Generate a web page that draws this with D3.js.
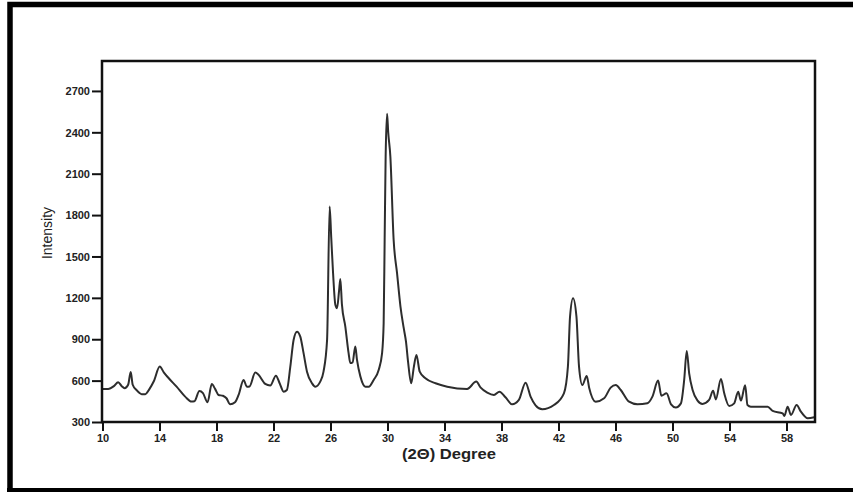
<!DOCTYPE html>
<html>
<head>
<meta charset="utf-8">
<script src="https://cdn.jsdelivr.net/npm/d3@7"></script>
<style>
  body { margin: 0; background: #fff; }
  svg { display: block; font-family: "Liberation Sans", Arial, sans-serif; }
</style>
</head>
<body>
<svg id="chart" width="853" height="492"></svg>
<script>
// 2-theta positions (degrees) and the intensity
const twoTheta = [
  10.0, 10.4, 10.8, 11.1, 11.35, 11.55, 11.8, 11.98, 12.12, 12.4, 12.75, 13.0, 13.3, 13.6,
  14.02, 14.3, 14.65, 15.2, 15.8, 16.25, 16.45, 16.8, 17.05, 17.37, 17.67, 17.9, 18.14,
  18.45, 18.7, 18.96, 19.3, 19.55, 19.9, 20.13, 20.32, 20.72, 20.95, 21.42, 21.77, 22.17,
  22.43, 22.71, 22.94, 23.18, 23.41, 23.65, 23.88, 24.11, 24.35, 24.7, 24.93, 25.28, 25.51,
  25.76, 25.94, 26.05, 26.18, 26.34, 26.46, 26.6, 26.69, 26.8, 27.04, 27.27, 27.39, 27.55,
  27.74, 27.86, 28.1, 28.45, 28.68, 29.03, 29.38, 29.62, 29.73, 29.8, 29.87, 29.97, 30.05,
  30.2, 30.43, 30.67, 30.91, 31.14, 31.3, 31.44, 31.66, 31.85, 32.03, 32.26, 32.66, 33.37,
  34.19, 35.59, 36.23, 36.54, 37.0, 37.47, 37.86, 38.28, 38.75, 39.22, 39.69, 40.04, 40.39,
  40.86, 41.68, 42.38, 42.66, 42.81, 43.02, 43.26, 43.44, 43.67, 43.98, 44.15, 44.61, 45.2,
  45.66, 46.02, 46.37, 46.95, 47.54, 48.24, 48.59, 48.99, 49.22, 49.58, 49.9, 50.23, 50.59,
  50.82, 51.0, 51.17, 51.41, 51.76, 52.1, 52.57, 52.85, 53.04, 53.4, 53.63, 53.98, 54.33,
  54.61, 54.8, 55.1, 55.26, 55.5, 56.68, 57.03, 57.73, 57.85, 58.08, 58.31, 58.71, 59.01,
  59.49, 59.95
];
const intensity = [
  540, 540, 560, 588, 560, 545, 570, 662, 570, 530, 502, 502, 540, 595,
  702, 660, 617, 556, 484, 448, 450, 525, 510, 443, 575, 540, 496,
  490, 472, 428, 443, 496, 605, 556, 558, 658, 642, 576, 564, 636,
  581, 520, 532, 701, 895, 955, 919, 799, 665, 581, 556, 593, 665,
  895, 1863, 1640, 1380, 1150, 1125, 1250, 1336, 1155, 992, 799, 727, 732,
  847, 750, 629, 556, 556, 605, 677, 799, 1016, 1621, 2226, 2535, 2400,
  2226, 1621, 1379, 1137, 980, 880, 740, 581, 700, 786, 665, 617, 581,
  556, 540, 593, 549, 513, 496, 520, 479, 428, 460, 585, 484, 421,
  392, 423, 508, 701, 1064, 1198, 1064, 701, 568, 634, 549, 447, 472,
  549, 568, 532, 447, 428, 436, 484, 600, 490, 508, 428, 405, 435,
  605, 815, 653, 532, 455, 431, 460, 527, 464, 612, 508, 416, 435,
  520, 455, 566, 423, 411, 411, 380, 363, 344, 411, 351, 423, 375,
  327, 334
];
const xTicks = [10, 14, 18, 22, 26, 30, 34, 38, 42, 46, 50, 54, 58];
const yTicks = [300, 600, 900, 1200, 1500, 1800, 2100, 2400, 2700];

const svg = d3.select("#chart");

// frame of the plot area
const plotL = 102, plotR = 815, plotT = 61, plotB = 422;

const x = d3.scaleLinear().domain([10, 60]).range([plotL + 0.5, plotR]);
const y = d3.scaleLinear().domain([300, 2917]).range([plotB, plotT]);

// outer border (left, top and bottom only, as in the picture)
svg.append("path")
  .attr("d", "M10,492 V4.5 H853")
  .attr("fill", "none")
  .attr("stroke", "#000")
  .attr("stroke-width", 5.5);
svg.append("line")
  .attr("x1", 7).attr("x2", 853).attr("y1", 490).attr("y2", 490)
  .attr("stroke", "#000").attr("stroke-width", 4);

// axes
const xAxis = svg.append("g")
  .attr("transform", `translate(0,${plotB})`)
  .call(d3.axisBottom(x).tickValues(xTicks).tickFormat(d3.format("d")).tickSize(9).tickPadding(3));
const yAxis = svg.append("g")
  .attr("transform", `translate(${plotL},0)`)
  .call(d3.axisLeft(y).tickValues(yTicks).tickFormat(d3.format("d")).tickSize(10).tickPadding(2));

[xAxis, yAxis].forEach(g => {
  g.select(".domain").remove();
  g.selectAll(".tick line").attr("stroke", "#111").attr("stroke-width", 2);
  g.selectAll(".tick text")
    .attr("fill", "#222")
    .style("font-size", "11px")
    .style("font-weight", "bold");
});
yAxis.selectAll(".tick text").attr("dy", "0.34em");

// data trace
const line = d3.line()
  .x((d, i) => x(twoTheta[i]))
  .y(d => y(d))
  .curve(d3.curveMonotoneX);

svg.append("path")
  .datum(intensity)
  .attr("d", line)
  .attr("fill", "none")
  .attr("stroke", "#2d2d2d")
  .attr("stroke-width", 2)
  .attr("stroke-linejoin", "round");

svg.append("rect")
  .attr("x", plotL).attr("y", plotT)
  .attr("width", plotR - plotL).attr("height", plotB - plotT)
  .attr("fill", "none")
  .attr("stroke", "#111")
  .attr("stroke-width", 2.5);

// axis titles
svg.append("text")
  .attr("x", 449).attr("y", 459)
  .attr("text-anchor", "middle")
  .attr("textLength", 94)
  .attr("lengthAdjust", "spacingAndGlyphs")
  .style("font-size", "15px")
  .style("font-weight", "bold")
  .attr("fill", "#222")
  .text("(2Θ) Degree");

svg.append("text")
  .attr("transform", "translate(52,233) rotate(-90)")
  .attr("text-anchor", "middle")
  .style("font-size", "14px")
  .attr("fill", "#222")
  .text("Intensity");
</script>
</body>
</html>
